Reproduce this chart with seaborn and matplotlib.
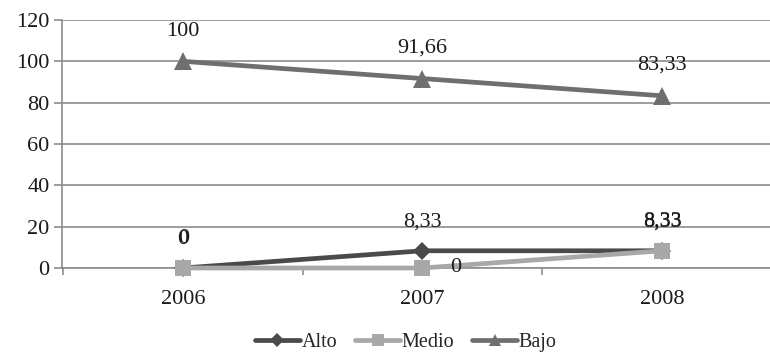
import matplotlib
matplotlib.use("Agg")
import matplotlib.pyplot as plt
import seaborn as sns
import pandas as pd
from matplotlib.ticker import FixedLocator, MultipleLocator
from matplotlib.lines import Line2D

years = ["2006", "2007", "2008"]
alto = [0, 8.33, 8.33]
medio = [0, 0, 8.33]
bajo = [100, 91.66, 83.33]
series_names = ["Alto", "Medio", "Bajo"]
alto_labels = ["0", "8,33", "8,33"]
medio_labels = ["0", "0", "8,33"]
bajo_labels = ["100", "91,66", "83,33"]

sns.set_theme(style="white")
plt.rcParams["font.family"] = ["Liberation Serif", "DejaVu Serif"]

rows = []
for name, vals in zip(series_names, [alto, medio, bajo]):
    for i, (yr, v) in enumerate(zip(years, vals)):
        rows.append({"pos": i, "year": yr, "serie": name, "valor": v})
df = pd.DataFrame(rows)

colors = {"Alto": "#4a4a4a", "Medio": "#a8a8a8", "Bajo": "#6f6f6f"}
markers = {"Alto": "D", "Medio": "s", "Bajo": "^"}
msize = {"Alto": 9, "Medio": 12, "Bajo": 13.5}

fig = plt.figure(figsize=(7.7, 3.54), dpi=100)
ax = fig.add_axes([62 / 770, 1 - 268 / 354, 1 - 62 / 770, 248 / 354])

sns.lineplot(data=df, x="pos", y="valor", hue="serie", style="serie",
             palette=colors, markers=markers, dashes=False, linewidth=3.4,
             markeredgewidth=0, ax=ax, legend=False, zorder=3)
for line, name in zip(ax.lines, series_names):
    line.set_markersize(msize[name])
    line.set_clip_on(False)

ax.set_ylim(0, 120)
ax.set_xlim(-0.505, 2.451)
ax.yaxis.set_major_locator(MultipleLocator(20))
ax.set_xticks(range(len(years)))
ax.set_xticklabels(years)
ax.xaxis.set_minor_locator(FixedLocator([-0.5, 0.5, 1.5, 2.5]))
ax.grid(axis="y", color="#8c8c8c", linewidth=1.2, zorder=0)
ax.set_axisbelow(True)
for s in ["top", "right"]:
    ax.spines[s].set_visible(False)
for s in ["left", "bottom"]:
    ax.spines[s].set_color("#8c8c8c")
    ax.spines[s].set_linewidth(1.2)
ax.tick_params(axis="y", which="major", length=6, width=1.2, color="#8c8c8c",
               direction="out", labelsize=16, pad=3, left=True)
ax.tick_params(axis="x", which="major", length=0, labelsize=16, pad=16)
ax.tick_params(axis="x", which="minor", length=5, width=1.2, color="#8c8c8c",
               direction="out", bottom=True)
ax.set_xlabel("")
ax.set_ylabel("")
for lbl in ax.get_yticklabels() + ax.get_xticklabels():
    lbl.set_color("#1a1a1a")

tkw = dict(fontsize=16, color="#1a1a1a", ha="center")
for i, (v, t) in enumerate(zip(bajo, bajo_labels)):
    ax.annotate(t, (i, v), xytext=(0, 15), textcoords="offset points", va="bottom", **tkw)
for i, (v, t) in enumerate(zip(alto, alto_labels)):
    ax.annotate(t, (i, v), xytext=(0, 14), textcoords="offset points", va="bottom", **tkw)
for i, (v, t) in enumerate(zip(medio, medio_labels)):
    if i == 1:
        ax.annotate(t, (i, v), xytext=(24, 0), textcoords="offset points", va="center", **tkw)
    else:
        ax.annotate(t, (i, v), xytext=(0.5, 14.3), textcoords="offset points", va="bottom", **tkw)

handles = [Line2D([], [], color=colors[n], marker=markers[n], linewidth=3.4,
                  markersize={"Alto": 7, "Medio": 9, "Bajo": 9}[n], markeredgewidth=0)
           for n in series_names]
fig.legend(handles, series_names, loc="center", bbox_to_anchor=(406 / 770, 1 - 342 / 354),
           ncol=3, frameon=False, fontsize=14.5, handlelength=2.2, handletextpad=0.1,
           columnspacing=0.9, borderaxespad=0, borderpad=0)

fig.savefig("out.png", dpi=100)
